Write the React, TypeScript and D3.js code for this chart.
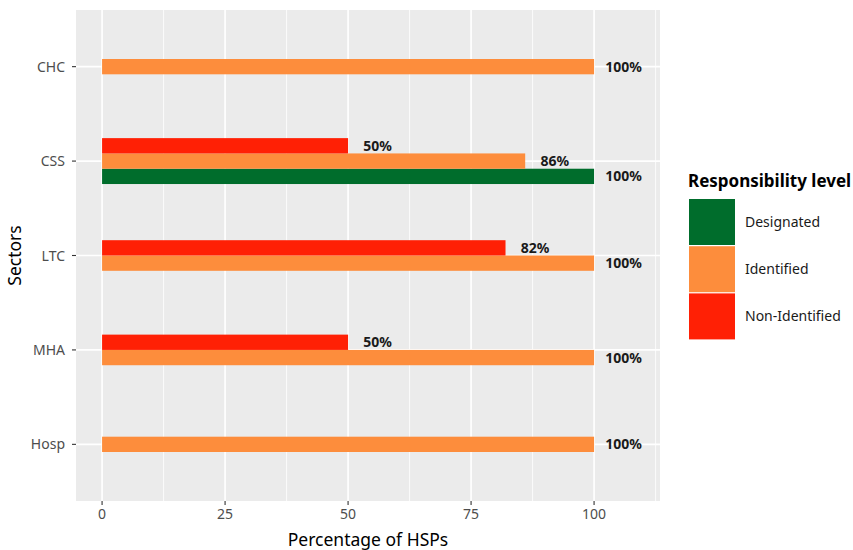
import React from "react";
import * as d3 from "d3";

const sectors = ["CHC", "CSS", "LTC", "MHA", "Hosp"];
const levels = ["Designated", "Identified", "Non-Identified"];
const levelColors = ["#006D2C", "#FD8D3C", "#FF2005"];
// values per sector, per level (null = absent)
const designated = [null, 100, null, null, null];
const identified = [100, 86, 100, 100, 100];
const nonIdentified = [null, 50, 82, 50, null];
const xTicks = [0, 25, 50, 75, 100];
const xMinor = [12.5, 37.5, 62.5, 87.5, 112.5];

const W = 853, H = 550;
const PL = 76, PR = 660, PT = 10, PB = 501;
const FONT = "'Noto Sans', Lato, sans-serif";

export default function App() {
  const x = d3.scaleLinear().domain([-5.3, 113.4]).range([PL, PR]);
  const y = d3.scalePoint<string>().domain(sectors).range([PT, PB]).padding(0.6);
  const barH = 15.3;
  const series = [designated, identified, nonIdentified];

  const bars: any[] = [];
  sectors.forEach((s, i) => {
    const present = levels.map((l, j) => ({ l, j, v: series[j][i] })).filter(d => d.v !== null);
    const n = present.length;
    present.forEach((d, k) => {
      const cy = (y(s) as number) + ((n - 1) / 2 - k) * barH;
      bars.push({ s, ...d, cy });
    });
  });

  return (
    <svg width={W} height={H} style={{ position: "absolute", left: 0, top: 0, background: "#fff" }} fontFamily={FONT}>
      <rect x={PL} y={PT} width={PR - PL} height={PB - PT} fill="#EBEBEB" />
      {xMinor.map(t => (
        <line key={"mn" + t} x1={x(t)} x2={x(t)} y1={PT} y2={PB} stroke="#fff" strokeWidth={0.8} />
      ))}
      {xTicks.map(t => (
        <line key={"mj" + t} x1={x(t)} x2={x(t)} y1={PT} y2={PB} stroke="#fff" strokeWidth={1.6} />
      ))}
      {sectors.map(s => (
        <line key={"hy" + s} x1={PL} x2={PR} y1={y(s)} y2={y(s)} stroke="#fff" strokeWidth={1.6} />
      ))}
      {bars.map((b, i) => (
        <rect key={"b" + i} x={x(0)} width={x(b.v) - x(0)} y={b.cy - barH / 2} height={barH} fill={levelColors[b.j]} />
      ))}
      {bars.map((b, i) => (
        <text key={"t" + i} x={x(b.v + 6)} y={b.cy} dy="0.36em" textAnchor="middle" fontSize={14} fontWeight="bold" fill="#1a1a1a">
          {b.v}%
        </text>
      ))}
      {sectors.map(s => (
        <g key={"ya" + s}>
          <line x1={PL - 4} x2={PL} y1={y(s)} y2={y(s)} stroke="#333" strokeWidth={1.1} />
          <text x={PL - 11} y={y(s)} dy="0.36em" textAnchor="end" fontSize={14} fill="#4D4D4D">{s}</text>
        </g>
      ))}
      {xTicks.map(t => (
        <g key={"xa" + t}>
          <line x1={x(t)} x2={x(t)} y1={PB} y2={PB + 4} stroke="#333" strokeWidth={1.1} />
          <text x={x(t)} y={PB + 18} textAnchor="middle" fontSize={14} fill="#4D4D4D">{t}</text>
        </g>
      ))}
      <text x={(PL + PR) / 2} y={545.5} textAnchor="middle" fontSize={17.5} fill="#000">Percentage of HSPs</text>
      <text transform={`translate(21, ${(PT + PB) / 2}) rotate(-90)`} textAnchor="middle" fontSize={17.5} fill="#000">Sectors</text>
      <text x={688} y={186.5} fontSize={17} fontWeight="bold" fill="#000">Responsibility level</text>
      {levels.map((l, j) => {
        const top = 199 + j * 47.2;
        return (
          <g key={"lg" + l}>
            <rect x={689} y={top} width={46} height={46} fill={levelColors[j]} />
            <text x={745} y={top + 23} dy="0.36em" fontSize={14} fill="#1a1a1a">{l}</text>
          </g>
        );
      })}
    </svg>
  );
}
